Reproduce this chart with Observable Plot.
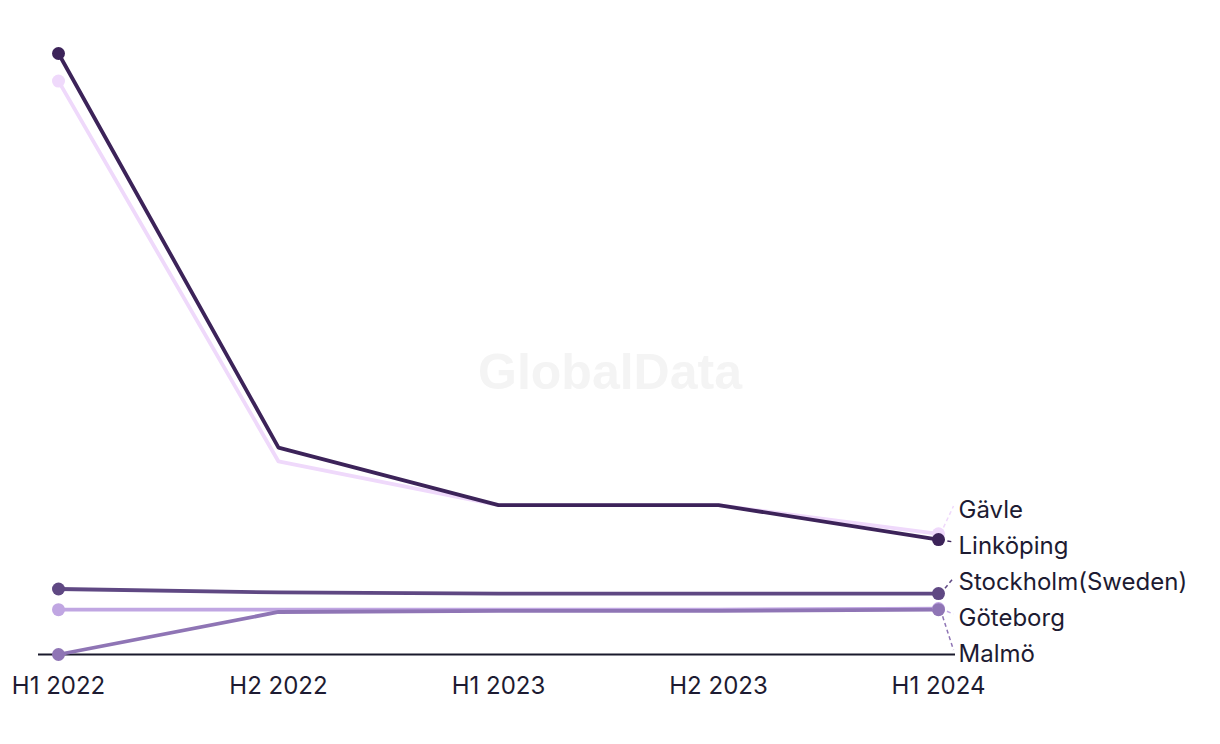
<!DOCTYPE html>
<html>
<head>
<meta charset="utf-8">
<script src="https://cdn.jsdelivr.net/npm/d3@7"></script>
<script src="https://cdn.jsdelivr.net/npm/@observablehq/plot@0.6"></script>
<style>
  html, body { margin: 0; padding: 0; background: #ffffff; }
  #chart { position: relative; width: 1220px; height: 744px; }
  #watermark { position: absolute; left: 0; width: 1220px; top: 343px; text-align: center;
    font-family: "Liberation Sans", Arial, sans-serif; font-weight: bold; font-size: 50px; color: #f4f4f4; pointer-events: none; }
  svg { position: absolute; left: 0; top: 0; }
</style>
</head>
<body>
<div id="chart"><div id="watermark">GlobalData</div></div>
<script>
const periods = ["H1 2022", "H2 2022", "H1 2023", "H2 2023", "H1 2024"];
const cities = ["Gävle", "Linköping", "Stockholm(Sweden)", "Göteborg", "Malmö"];
const gavle     = [4.99, 1.68, 1.30, 1.30, 1.05];
const linkoping = [5.23, 1.80, 1.30, 1.30, 1.00];
const stockholm = [0.57, 0.54, 0.53, 0.53, 0.53];
const goteborg  = [0.39, 0.39, 0.39, 0.39, 0.40];
const malmo     = [0.00, 0.37, 0.38, 0.38, 0.39];
const colors = ["#efd9fb", "#3c2359", "#5f4883", "#c0a6e2", "#8f75b5"];

const seriesValues = [gavle, linkoping, stockholm, goteborg, malmo];
// draw order: light ones first so dark Linköping sits on top
const drawOrder = ["Gävle", "Göteborg", "Malmö", "Stockholm(Sweden)", "Linköping"];

const rows = [];
cities.forEach((c, ci) => seriesValues[ci].forEach((v, i) => rows.push({city: c, i, period: periods[i], value: v})));
rows.sort((a, b) => drawOrder.indexOf(a.city) - drawOrder.indexOf(b.city));

const W = 1220, H = 744;
const xRange = [58, 938];
const yRange = [654, 53];
const yMax = d3.max(seriesValues.flat());
const xS = d3.scaleLinear([0, periods.length - 1], xRange);
const yS = d3.scaleLinear([0, yMax], yRange);

// end-label layout: stack at fixed spacing centred on mean of end points
const last = periods.length - 1;
const ends = cities.map((c, ci) => ({city: c, value: seriesValues[ci][last], color: colors[ci]}))
  .sort((a, b) => b.value - a.value);
const spacing = 36;
const meanPx = d3.mean(ends, d => yS(d.value)) + 5;
ends.forEach((d, k) => {
  const py = meanPx + (k - (ends.length - 1) / 2) * spacing;
  d.labelValue = yS.invert(py);
  d.linkValue = yS.invert(py - 4);
});
const labelX = xS.invert(xRange[1] + 20);
const linkX = xS.invert(xRange[1] + 15);
const linkX0 = xS.invert(xRange[1] + 2);

const colorScale = {domain: cities, range: colors};

const chart = Plot.plot({
  width: W,
  height: H,
  marginLeft: 38,
  marginRight: 265,
  marginTop: 20,
  marginBottom: 90,
  style: {fontFamily: "Inter, 'Noto Sans', sans-serif", fontSize: "24px", color: "#1d1b32", background: "transparent"},
  x: {domain: [0, last], range: xRange, axis: null},
  y: {domain: [0, yMax], range: yRange, axis: null},
  color: colorScale,
  marks: [
    Plot.ruleY([0], {stroke: "#1a1a2c", strokeWidth: 2, x1: xS.invert(38), x2: xS.invert(955)}),
    Plot.link(ends, {x1: linkX0, y1: "value", x2: linkX, y2: "linkValue", stroke: "color", strokeWidth: 1.5, strokeDasharray: "4,3"}),
    Plot.line(rows, {x: "i", y: "value", z: "city", stroke: "city", strokeWidth: 3.8, curve: "linear"}),
    Plot.dot(rows.filter(d => d.i === 0 || d.i === last), {x: "i", y: "value", fill: "city", r: 6.5, stroke: null}),
    Plot.text(periods, {x: (d, i) => i, y: 0, text: d => d, dy: 32, fill: "#1d1b32", fontSize: 24}),
    Plot.text(ends, {x: labelX, y: "labelValue", text: "city", textAnchor: "start", fill: "#1d1b32", fontSize: 24})
  ]
});
document.getElementById("chart").appendChild(chart);
</script>
</body>
</html>
